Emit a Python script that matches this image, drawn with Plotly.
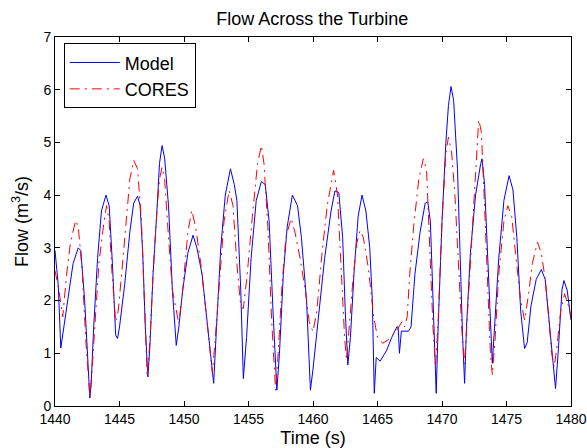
import plotly.graph_objects as go

# Model (blue)
t_model = [1440.0, 1440.25, 1440.45, 1440.6, 1441.0, 1441.4, 1441.8, 1442.0, 1442.3, 1442.55,
           1442.7, 1442.8, 1443.0, 1443.3, 1443.6, 1443.95, 1444.2, 1444.45, 1444.7, 1444.85,
           1445.0, 1445.4, 1445.8, 1446.1, 1446.4, 1446.6, 1446.8, 1447.0, 1447.2, 1447.35,
           1447.6, 1447.9, 1448.1, 1448.3, 1448.5, 1448.8, 1449.1, 1449.4, 1449.6, 1449.9,
           1450.3, 1450.7, 1451.0, 1451.4, 1451.8, 1452.1, 1452.3, 1452.5, 1452.85, 1453.2,
           1453.6, 1453.9, 1454.1, 1454.4, 1454.6, 1454.85, 1455.2, 1455.6, 1456.0, 1456.3,
           1456.6, 1456.9, 1457.2, 1457.4, 1457.7, 1458.0, 1458.4, 1458.8, 1459.1, 1459.5,
           1459.8, 1460.0, 1460.4, 1460.9, 1461.4, 1461.7, 1462.0, 1462.3, 1462.5, 1462.7,
           1462.9, 1463.2, 1463.5, 1463.8, 1464.1, 1464.4, 1464.6, 1464.75, 1464.9, 1465.2,
           1465.7, 1466.1, 1466.5, 1466.6, 1466.7, 1466.85, 1467.4, 1467.6, 1467.9, 1468.3,
           1468.7, 1468.9, 1469.1, 1469.3, 1469.45, 1469.55, 1469.7, 1470.0, 1470.3, 1470.5,
           1470.7, 1470.9, 1471.2, 1471.4, 1471.6, 1471.75, 1471.9, 1472.2, 1472.6, 1473.0,
           1473.1, 1473.3, 1473.5, 1473.75, 1473.9, 1474.1, 1474.4, 1474.8, 1475.2, 1475.5,
           1475.8, 1476.1, 1476.4, 1476.6, 1476.9, 1477.3, 1477.7, 1478.0, 1478.3, 1478.6,
           1478.8, 1479.0, 1479.3, 1479.45, 1479.7, 1480.0]
model = [2.95, 2.3, 1.1, 1.35, 2.0, 2.7, 3.0, 2.95, 2.0, 0.8,
         0.15, 0.4, 1.5, 2.8, 3.7, 4.0, 3.8, 2.7, 1.35, 1.28,
         1.5, 2.3, 3.3, 3.85, 3.98, 3.8, 2.9, 1.5, 0.55, 1.1,
         2.5, 3.7, 4.6, 4.94, 4.7, 3.8, 2.2, 1.15, 1.5, 2.2,
         2.9, 3.24, 3.0, 2.5, 1.6, 0.9, 0.43, 1.4, 3.0, 4.0,
         4.5, 4.2, 3.9, 2.2, 0.52, 1.3, 2.8, 3.9, 4.26, 4.2,
         3.5, 1.8, 0.3, 1.0, 2.5, 3.4, 4.0, 3.8, 3.2, 2.0,
         0.3, 0.7, 1.6, 2.8, 3.7, 4.08, 4.05, 3.2, 1.8, 0.78,
         1.3, 2.6, 3.6, 4.0, 3.7, 3.0, 2.0, 0.24, 0.92, 0.85,
         1.05, 1.3, 1.5, 1.5, 1.0, 1.42, 1.42, 1.5, 2.5, 3.3,
         3.85, 3.87, 3.5, 2.0, 0.8, 0.24, 1.5, 3.5, 5.0, 5.7,
         6.06, 5.8, 4.5, 2.7, 1.3, 0.43, 1.5, 2.9, 4.0, 4.6,
         4.69, 4.2, 3.0, 1.5, 0.81, 1.6, 2.8, 3.9, 4.37, 4.1,
         3.2, 1.8, 1.09, 1.2, 1.9, 2.4, 2.59, 2.4, 1.6, 0.8,
         0.33, 1.0, 2.2, 2.38, 2.2, 1.63]

# CORES (red dash-dot)
t_cores = [1440.0, 1440.3, 1440.6, 1440.9, 1441.2, 1441.6, 1441.8, 1442.1, 1442.4, 1442.7,
           1442.85, 1443.1, 1443.4, 1443.8, 1444.0, 1444.2, 1444.4, 1444.7, 1444.9, 1445.2,
           1445.5, 1445.8, 1446.1, 1446.4, 1446.7, 1446.9, 1447.15, 1447.35, 1447.6, 1447.9,
           1448.1, 1448.3, 1448.5, 1448.8, 1449.1, 1449.6, 1449.9, 1450.3, 1450.6, 1450.9,
           1451.3, 1451.7, 1452.0, 1452.2, 1452.4, 1452.8, 1453.1, 1453.5, 1453.8, 1454.1,
           1454.4, 1454.6, 1454.9, 1455.3, 1455.7, 1456.0, 1456.2, 1456.5, 1456.8, 1457.1,
           1457.3, 1457.6, 1457.9, 1458.3, 1458.6, 1459.0, 1459.4, 1459.7, 1460.0, 1460.3,
           1460.7, 1461.1, 1461.5, 1461.6, 1461.9, 1462.2, 1462.45, 1462.6, 1462.8, 1463.1,
           1463.4, 1463.65, 1463.9, 1464.3, 1464.7, 1465.0, 1465.4, 1465.8, 1466.2, 1466.5,
           1466.9, 1467.1, 1467.3, 1467.5, 1467.8, 1468.2, 1468.55, 1468.8, 1469.0, 1469.3,
           1469.5, 1469.7, 1470.0, 1470.3, 1470.5, 1470.75, 1471.0, 1471.3, 1471.55, 1471.75,
           1471.95, 1472.3, 1472.6, 1472.85, 1473.05, 1473.3, 1473.55, 1473.75, 1473.9, 1474.1,
           1474.4, 1474.8, 1475.1, 1475.4, 1475.7, 1476.1, 1476.4, 1476.7, 1477.0, 1477.4,
           1477.7, 1478.0, 1478.3, 1478.5, 1478.7, 1478.9, 1479.2, 1479.5, 1479.8, 1480.0]
cores = [2.57, 2.2, 1.69, 2.5, 3.1, 3.52, 3.4, 2.6, 1.2, 0.18,
         0.6, 1.6, 2.7, 3.5, 3.8, 3.5, 2.6, 1.6, 1.8, 2.6,
         3.5, 4.3, 4.66, 4.5, 3.5, 2.0, 0.55, 1.2, 2.5, 3.7,
         4.3, 4.53, 4.3, 3.2, 2.2, 1.56, 2.2, 3.3, 3.71, 3.4,
         2.7, 1.8, 1.0, 0.62, 1.2, 2.5, 3.5, 4.09, 3.8, 2.7,
         1.88, 1.85, 2.5, 3.6, 4.6, 4.94, 4.6, 3.4, 1.6, 0.3,
         1.0, 2.3, 3.2, 3.56, 3.3, 2.8, 2.2, 1.6, 1.41, 1.8,
         2.9, 3.8, 4.3, 4.47, 4.0, 2.6, 1.3, 0.87, 1.5, 2.4,
         3.1, 3.33, 3.2, 2.6, 1.7, 1.3, 1.19, 1.25, 1.35, 1.44,
         1.6, 1.5, 1.69, 2.5, 3.4, 4.3, 4.69, 4.5, 3.3, 1.5,
         0.74, 1.6, 3.5, 4.8, 5.1, 4.8, 4.0, 2.6, 1.4, 0.8,
         1.6, 3.1, 4.4, 5.43, 5.2, 3.8, 2.3, 1.0, 0.59, 1.2,
         2.5, 3.5, 3.8, 3.6, 2.9, 2.0, 1.63, 2.1, 2.7, 3.11,
         2.9, 2.4, 1.6, 1.0, 0.74, 1.1, 1.8, 2.13, 1.9, 1.69]

x_ticks = [1440, 1445, 1450, 1455, 1460, 1465, 1470, 1475, 1480]
y_ticks = [0, 1, 2, 3, 4, 5, 6, 7]

fig = go.Figure()
fig.add_trace(go.Scatter(x=t_model, y=model, mode="lines", name="Model",
                         line=dict(color="#0000ff", width=1)))
fig.add_trace(go.Scatter(x=t_cores, y=cores, mode="lines", name="CORES",
                         line=dict(color="#ff0000", width=1, dash="10px,5px,2px,5px")))

axis_style = dict(showline=True, linecolor="black", linewidth=1, mirror="ticks",
                  ticks="inside", ticklen=5, tickcolor="black", showgrid=False,
                  zeroline=False, automargin=False,
                  tickfont=dict(size=14, color="black"))

fig.update_layout(
    width=587, height=448,
    paper_bgcolor="white", plot_bgcolor="white",
    font=dict(family="Liberation Sans, Arial, sans-serif", color="black"),
    margin=dict(l=55, r=16, t=37, b=42),
    title=dict(text="Flow Across the Turbine", x=0.532, xanchor="center",
               y=0.958, yanchor="middle", font=dict(size=18)),
    xaxis=dict(range=[1440, 1480], tickvals=x_ticks,
               title=dict(text="Time (s)", font=dict(size=18)), **axis_style),
    yaxis=dict(range=[0, 7], tickvals=y_ticks,
               title=dict(text="Flow (m<sup>3</sup>/s)", font=dict(size=18), standoff=10),
               **axis_style),
    legend=dict(x=0.017, y=0.983, xanchor="left", yanchor="top",
                bordercolor="black", borderwidth=1, bgcolor="white",
                font=dict(size=18), itemwidth=50, tracegroupgap=0),
    showlegend=True,
)

# drop the page's default body margin so the figure sits at the window's corner
fix_page = ("document.body.style.margin='0';"
            "document.body.style.overflow='hidden';")
fig.write_html("out.html", post_script=fix_page, config={"displayModeBar": False})
